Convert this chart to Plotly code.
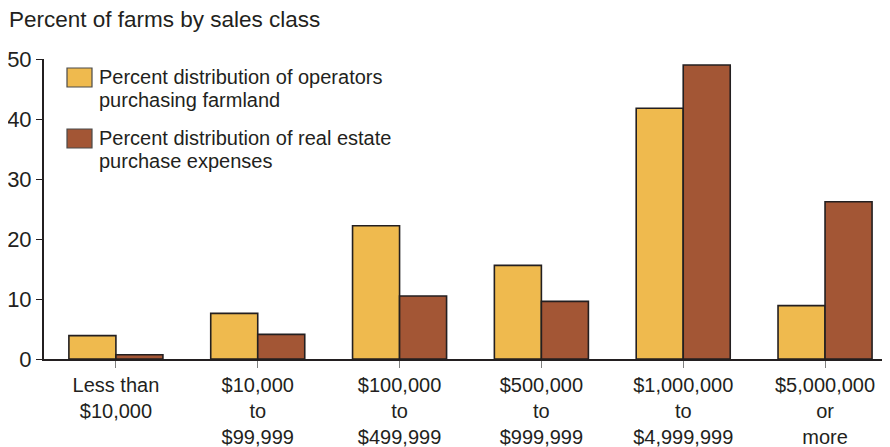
import plotly.graph_objects as go

categories = ["Less than<br>$10,000", "$10,000<br>to<br>$99,999", "$100,000<br>to<br>$499,999",
              "$500,000<br>to<br>$999,999", "$1,000,000<br>to<br>$4,999,999", "$5,000,000<br>or<br>more"]
operators_pct = [3.9, 7.6, 22.2, 15.6, 41.8, 8.9]
expenses_pct = [0.7, 4.1, 10.5, 9.6, 49.0, 26.2]
series_names = ["Percent distribution of operators|purchasing farmland",
                "Percent distribution of real estate|purchase expenses"]
y_ticks = [0, 10, 20, 30, 40, 50]

ORANGE = "#EFBA4E"
BROWN = "#A35635"
EDGE = "#231F20"
FONT = "Liberation Sans, Arial, sans-serif"
TXT = "#231F20"

# the page places the figure 8px from the top-left corner
OFF = 8
W, H = 890 - OFF, 447 - OFF
ML, MR, MT, MB = 44 - OFF, 0, 59 - OFF, 447 - 359
PW, PH = W - ML - MR, H - MT - MB

def px_x(x): return (x - OFF - ML) / PW
def px_y(y): return (H - MB - (y - OFF)) / PH

xs = list(range(len(categories)))
fig = go.Figure()
fig.add_trace(go.Bar(x=xs, y=operators_pct, marker=dict(color=ORANGE, line=dict(color=EDGE, width=1.6)),
                     showlegend=False))
fig.add_trace(go.Bar(x=xs, y=expenses_pct, marker=dict(color=BROWN, line=dict(color=EDGE, width=1.6)),
                     showlegend=False))

# legend drawn manually
box_tops = [68, 129]
colors = [ORANGE, BROWN]
for top, col, name in zip(box_tops, colors, series_names):
    fig.add_shape(type="rect", xref="paper", yref="paper",
                  x0=px_x(67), x1=px_x(92), y0=px_y(top), y1=px_y(top + 19),
                  fillcolor=col, line=dict(color="#4a4a4a", width=1.2))
    for i, line in enumerate(name.split("|")):
        fig.add_annotation(xref="paper", yref="paper", x=px_x(97), y=px_y(top + 9 + 23 * i),
                           text=line, showarrow=False, xanchor="left", yanchor="middle",
                           font=dict(family=FONT, size=20, color=TXT))

fig.add_annotation(xref="paper", yref="paper", x=px_x(7), y=px_y(19), text="Percent of farms by sales class",
                   showarrow=False, xanchor="left", yanchor="middle",
                   font=dict(family=FONT, size=22.5, color=TXT))

fig.update_layout(
    width=W, height=H,
    margin=dict(l=ML, r=MR, t=MT, b=MB, pad=0, autoexpand=False),
    paper_bgcolor="white", plot_bgcolor="white",
    barmode="group", bargap=0.337, bargroupgap=0,
    font=dict(family=FONT, color=TXT),
)
fig.update_xaxes(range=[-0.507, 5.458], tickvals=xs, ticktext=categories, automargin=False,
                 showline=True, linecolor=EDGE, linewidth=2,
                 ticks="outside", ticklen=7, tickcolor="#808080", tickwidth=1,
                 tickfont=dict(family=FONT, size=20, color=TXT), showgrid=False, zeroline=False)
fig.update_yaxes(range=[0, 50], tickvals=y_ticks, automargin=False,
                 showline=True, linecolor=EDGE, linewidth=2,
                 ticks="outside", ticklen=6, tickcolor=EDGE, tickwidth=1,
                 tickfont=dict(family=FONT, size=22, color=TXT), showgrid=False, zeroline=False)

fig.write_html("out.html")
